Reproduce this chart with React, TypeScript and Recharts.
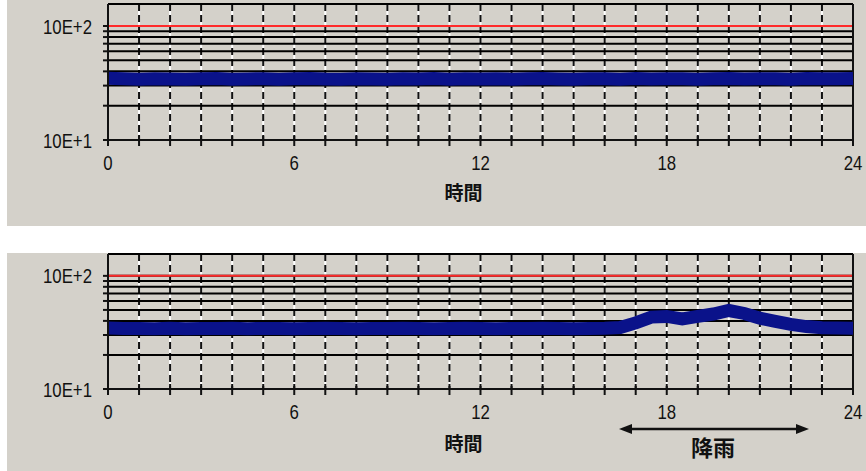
import React from 'react';
import { LineChart, Line, XAxis, YAxis, CartesianGrid, ReferenceLine } from 'recharts';

const hours = [
  0, 0.5, 1, 1.5, 2, 2.5, 3, 3.5, 4, 4.5, 5, 5.5, 6, 6.5, 7, 7.5, 8, 8.5, 9, 9.5,
  10, 10.5, 11, 11.5, 12, 12.5, 13, 13.5, 14, 14.5, 15, 15.5, 16, 16.5, 17, 17.5,
  18, 18.5, 19, 19.5, 20, 20.5, 21, 21.5, 22, 22.5, 23, 23.5, 24,
];

const topPanelValues = [
  34.8, 34.4, 34.2, 34.5, 34.3, 34.1, 34.4, 34.6, 34.2, 34.3,
  34.5, 34.2, 34.4, 34.7, 34.3, 34.2, 34.5, 34.3, 34.1, 34.4,
  34.3, 34.6, 34.2, 34.4, 34.3, 34.5, 34.2, 34.4, 34.6, 34.3,
  34.2, 34.5, 34.4, 34.2, 34.6, 34.3, 34.5, 34.4, 34.2, 34.5,
  34.6, 34.3, 34.4, 34.5, 34.2, 34.6, 34.4, 34.5, 34.7,
];

const bottomPanelValues = [
  34.6, 34.3, 34.2, 34.0, 34.4, 34.1, 34.3, 34.2, 34.4, 34.1,
  34.3, 34.2, 34.0, 34.3, 34.4, 34.2, 34.1, 34.3, 34.2, 34.4,
  34.3, 34.1, 34.2, 34.4, 34.3, 34.1, 34.2, 34.3, 34.4, 34.2,
  34.1, 34.3, 34.4, 34.9, 38.4, 43.2, 43.8, 41.6, 43.8, 46.0,
  49.4, 46.5, 42.2, 39.6, 37.2, 35.6, 34.8, 34.6, 34.5,
];

const xTicks = [0, 1, 2, 3, 4, 5, 6, 7, 8, 9, 10, 11, 12, 13, 14, 15, 16, 17, 18, 19, 20, 21, 22, 23, 24];
const xLabelTicks = [0, 6, 12, 18, 24];
const yTicks = [10, 20, 30, 40, 50, 60, 70, 80, 90, 100];
const yLabels: Record<number, string> = { 10: '10E+1', 100: '10E+2' };

const BG = '#d4d1ca';
const INK = '#111111';
const NUMFONT = "'Liberation Sans', Arial, sans-serif";
const CJK = "'Noto Sans CJK JP', 'Noto Sans CJK SC', sans-serif";

const XTick = (props: any) => {
  const { x, y, payload } = props;
  const show = xLabelTicks.includes(payload.value);
  return (
    <g>
      <line x1={x} x2={x} y1={y - 5} y2={y + 6} stroke={INK} strokeWidth={2} />
      {show && (
        <text
          x={0}
          y={0}
          transform={`translate(${x},${y + 30}) scale(0.8,1)`}
          textAnchor="middle"
          fontSize={21}
          fontFamily={NUMFONT}
          fill={INK}
        >
          {payload.value}
        </text>
      )}
    </g>
  );
};

const YTick = (props: any) => {
  const { x, y, payload } = props;
  const label = yLabels[payload.value];
  if (!label) return <g />;
  return (
    <text
      x={0}
      y={0}
      transform={`translate(${x},${y + 7.5}) scale(0.8,1)`}
      textAnchor="end"
      fontSize={21}
      fontFamily={NUMFONT}
      fill={INK}
    >
      {label}
    </text>
  );
};

type PanelProps = {
  values: number[];
  height: number;
  marginTop: number;
  marginBottom: number;
  axisHeight: number;
};

const Panel = ({ values, height, marginTop, marginBottom, axisHeight }: PanelProps) => {
  const data = hours.map((h, i) => ({ h, v: values[i] }));
  return (
    <LineChart
      width={859}
      height={height}
      data={data}
      margin={{ top: marginTop, right: 13, bottom: marginBottom, left: 0 }}
    >
      <CartesianGrid horizontal={false} stroke="#ffffff" strokeWidth={2} />
      <CartesianGrid horizontal={false} stroke={INK} strokeWidth={2} strokeDasharray="7 4" />
      <CartesianGrid vertical={false} stroke="#000000" strokeWidth={2} />
      <XAxis
        dataKey="h"
        type="number"
        domain={[0, 24]}
        ticks={xTicks}
        interval={0}
        tickSize={0}
        tickMargin={0}
        tick={<XTick />}
        tickLine={false}
        axisLine={{ stroke: INK, strokeWidth: 2 }}
        height={axisHeight}
        label={{
          value: '時間',
          position: 'insideBottom',
          offset: 0,
          dx: -17,
          fontSize: 19,
          fontFamily: CJK,
          fontWeight: 700,
          fill: INK,
        }}
      />
      <YAxis
        type="number"
        scale="log"
        domain={[10, 156]}
        allowDataOverflow
        ticks={yTicks}
        interval={0}
        width={101}
        tickSize={5}
        tickMargin={11}
        tick={<YTick />}
        tickLine={{ stroke: INK, strokeWidth: 2 }}
        axisLine={{ stroke: INK, strokeWidth: 2 }}
      />
      <ReferenceLine y={100} stroke="#ff2a2a" strokeWidth={2} ifOverflow="visible" />
      <ReferenceLine x={24} stroke={INK} strokeWidth={2} ifOverflow="visible" />
      <Line
        dataKey="v"
        type="linear"
        stroke="#0a128a"
        strokeWidth={13}
        dot={false}
        isAnimationActive={false}
      />
    </LineChart>
  );
};

export default function App() {
  return (
    <div style={{ position: 'absolute', left: 0, top: 0, width: 866, height: 471, background: '#ffffff', overflow: 'hidden' }}>
      <div style={{ position: 'absolute', left: 7, top: 0, width: 859, height: 226, background: BG }}>
        <Panel values={topPanelValues} height={226} marginTop={4} marginBottom={26} axisHeight={60} />
      </div>
      <div style={{ position: 'absolute', left: 7, top: 253, width: 859, height: 218, background: BG }}>
        <Panel values={bottomPanelValues} height={218} marginTop={1} marginBottom={20} axisHeight={62} />
      </div>
      <svg
        width={866}
        height={471}
        style={{ position: 'absolute', left: 0, top: 0, pointerEvents: 'none' }}
      >
        <line x1={628} x2={800} y1={429} y2={429} stroke={INK} strokeWidth={2.5} />
        <polygon points="619,429 632,424 632,434" fill={INK} />
        <polygon points="809,429 796,424 796,434" fill={INK} />
        <text
          x={713}
          y={456}
          textAnchor="middle"
          fontSize={22}
          fontWeight={700}
          fontFamily={CJK}
          fill={INK}
        >
          降雨
        </text>
      </svg>
    </div>
  );
}
